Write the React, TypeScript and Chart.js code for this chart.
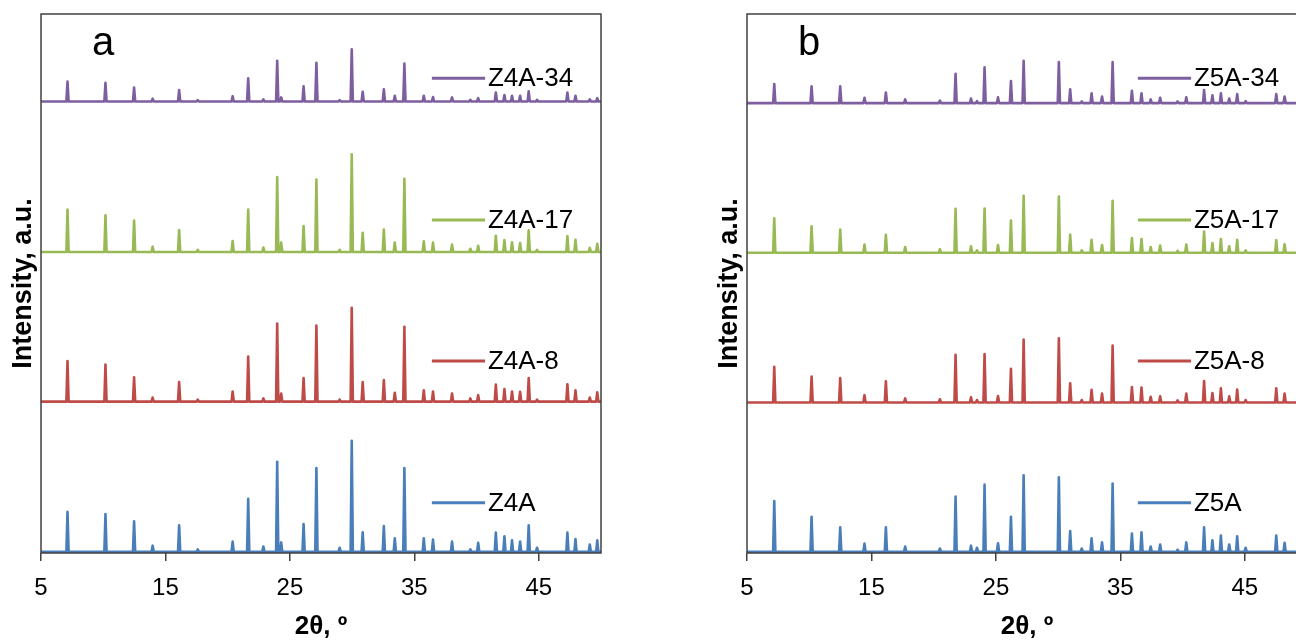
import React, { useEffect, useRef } from 'react';
import { Chart, registerables } from 'chart.js';

Chart.register(...registerables);

// ---------- data ----------
const xTickValues = [5, 15, 25, 35, 45];
const xMin = 5;
const xMax = 50;
const yMax = 1325;
const colors = ['#4A7EBB', '#BE4B48', '#98B954', '#7D5FA0'];

// Panel a: peak positions (2θ) and heights per sample
const peaksA = [7.13, 10.18, 12.48, 13.97, 16.1, 17.6, 20.4, 21.65, 22.87, 23.98, 24.3, 26.1, 27.13, 29.0, 29.97, 30.85, 32.55, 33.43, 34.2, 35.76, 36.5, 38.03, 39.5, 40.13, 41.55, 42.24, 42.85, 43.5, 44.19, 44.86, 47.3, 47.95, 49.1, 49.7];
const z4A = [98, 93, 75, 15, 65, 6, 25, 130, 13, 221, 23, 68, 206, 10, 273, 48, 63, 33, 206, 33, 30, 25, 6, 22, 47, 38, 28, 25, 65, 10, 47, 31, 18, 28];
const z4A8 = [100, 91, 60, 10, 48, 5, 25, 111, 8, 192, 20, 58, 187, 5, 231, 48, 53, 22, 184, 28, 25, 20, 8, 16, 42, 31, 25, 24, 58, 5, 43, 28, 10, 23];
const z4A17 = [104, 90, 77, 13, 54, 5, 27, 104, 11, 184, 23, 64, 178, 5, 240, 47, 55, 23, 180, 26, 23, 18, 8, 15, 40, 29, 24, 22, 53, 5, 39, 30, 10, 20];
const z4A34 = [49, 46, 34, 7, 28, 3, 13, 57, 5, 100, 10, 37, 95, 3, 128, 24, 30, 14, 93, 14, 11, 10, 4, 8, 22, 16, 14, 14, 25, 4, 22, 14, 5, 8];
const offsetsA = [3, 372, 740, 1110];
const labelsA = ['Z4A', 'Z4A-8', 'Z4A-17', 'Z4A-34'];

// Panel b
const peaksB = [7.19, 10.19, 12.49, 14.44, 16.16, 17.71, 20.5, 21.76, 23.0, 23.48, 24.09, 25.17, 26.21, 27.23, 30.06, 30.97, 31.9, 32.69, 33.53, 34.38, 35.93, 36.7, 37.44, 38.2, 39.6, 40.3, 41.73, 42.4, 43.08, 43.75, 44.39, 45.07, 47.53, 48.2];
const z5A = [125, 86, 60, 20, 60, 13, 8, 136, 15, 10, 165, 21, 86, 188, 183, 51, 8, 33, 23, 168, 45, 48, 13, 18, 5, 23, 60, 28, 40, 18, 38, 10, 40, 22];
const z5A8 = [88, 64, 60, 18, 52, 10, 8, 117, 13, 6, 119, 16, 83, 155, 158, 47, 6, 31, 22, 140, 38, 37, 14, 15, 5, 22, 53, 23, 35, 15, 32, 6, 35, 22];
const z5A17 = [85, 65, 57, 20, 44, 14, 9, 108, 16, 6, 109, 19, 79, 140, 138, 45, 6, 32, 19, 128, 36, 34, 14, 18, 5, 20, 52, 24, 34, 16, 32, 6, 31, 21];
const z5A34 = [47, 41, 41, 13, 26, 9, 6, 72, 11, 5, 88, 14, 54, 104, 101, 34, 4, 24, 16, 101, 30, 24, 9, 13, 4, 14, 32, 19, 24, 11, 22, 5, 22, 16];
const offsetsB = [3, 370, 738, 1106];
const labelsB = ['Z5A', 'Z5A-8', 'Z5A-17', 'Z5A-34'];

const PEAK_HALF_WIDTH = 0.09;

function buildTrace(peaks: number[], heights: number[], base: number) {
  const pts: { x: number; y: number }[] = [{ x: xMin, y: base }];
  peaks.forEach((p, i) => {
    pts.push({ x: p - PEAK_HALF_WIDTH, y: base });
    pts.push({ x: p, y: base + heights[i] });
    pts.push({ x: p + PEAK_HALF_WIDTH, y: base });
  });
  pts.push({ x: xMax, y: base });
  return pts;
}

const FONT = '"Liberation Sans", Arial, sans-serif';
const legendYFrac = [0.907, 0.644, 0.382, 0.119];

const decorPlugin = {
  id: 'decor',
  afterDraw(chart: any, _args: any, opts: any) {
    const { ctx, chartArea } = chart;
    const { left, top, right, bottom } = chartArea;
    const w = right - left;
    const h = bottom - top;
    ctx.save();
    ctx.strokeStyle = '#404040';
    ctx.lineWidth = 1.5;
    ctx.strokeRect(left, top, w, h);
    ctx.font = `26px ${FONT}`;
    ctx.textBaseline = 'middle';
    ctx.textAlign = 'left';
    (opts.labels as string[]).forEach((lab, i) => {
      const y = top + legendYFrac[i] * h;
      ctx.strokeStyle = colors[i];
      ctx.lineWidth = 3;
      ctx.beginPath();
      ctx.moveTo(left + 0.698 * w, y);
      ctx.lineTo(left + 0.793 * w, y);
      ctx.stroke();
      ctx.fillStyle = '#000';
      ctx.fillText(lab, left + 0.798 * w, y + 1);
    });
    ctx.font = `40px ${FONT}`;
    ctx.textBaseline = 'alphabetic';
    ctx.fillStyle = '#000';
    ctx.fillText(opts.letter, left + 51, 55);
    ctx.restore();
  },
};

function XrdPanel(props: { peaks: number[]; series: number[][]; offsets: number[]; labels: string[]; letter: string; left: number }) {
  const ref = useRef<HTMLCanvasElement>(null);
  useEffect(() => {
    if (!ref.current) return;
    const datasets = props.series.map((s, i) => ({
      label: props.labels[i],
      data: buildTrace(props.peaks, s, props.offsets[i]),
      borderColor: colors[i],
      borderWidth: 2.6,
      borderJoinStyle: 'round',
      borderCapStyle: 'round',
      pointRadius: 0,
      tension: 0,
      fill: false,
    }));
    const chart = new Chart(ref.current, {
      type: 'line',
      data: { datasets },
      plugins: [decorPlugin],
      options: {
        animation: false,
        responsive: false,
        devicePixelRatio: 1,
        parsing: false,
        normalized: true,
        layout: { padding: { top: 14, right: 39, left: 0, bottom: 0 } },
        plugins: {
          legend: { display: false },
          tooltip: { enabled: false },
          decor: { labels: props.labels, letter: props.letter },
        } as any,
        scales: {
          x: {
            type: 'linear',
            min: xMin,
            max: xMax,
            afterBuildTicks: (scale: any) => {
              scale.ticks = xTickValues.map((v) => ({ value: v }));
            },
            afterFit: (scale: any) => {
              scale.height = 87;
            },
            ticks: {
              autoSkip: false,
              maxRotation: 0,
              padding: 13,
              color: '#000',
              font: { family: FONT, size: 24 },
            },
            grid: {
              display: true,
              drawOnChartArea: false,
              drawTicks: true,
              tickLength: 8,
              color: '#404040',
              lineWidth: 1.5,
            },
            border: { display: false },
            title: {
              display: true,
              text: '2θ, º',
              color: '#000',
              font: { family: FONT, size: 26, weight: 'bold', lineHeight: 1 },
              padding: { top: 0, bottom: 0 },
            },
          },
          y: {
            type: 'linear',
            min: 0,
            max: yMax,
            afterFit: (scale: any) => {
              scale.width = 41;
            },
            ticks: { display: false },
            grid: { display: false },
            border: { display: false },
            title: {
              display: true,
              text: 'Intensity, a.u.',
              color: '#000',
              font: { family: FONT, size: 27, weight: 'bold', lineHeight: 1 },
              padding: { top: 10, bottom: 0 },
            },
          },
        },
      } as any,
    });
    return () => chart.destroy();
  }, []);
  return (
    <canvas
      ref={ref}
      width={640}
      height={640}
      style={{ position: 'absolute', left: props.left, top: 0, width: 640, height: 640 }}
    />
  );
}

export default function App() {
  return (
    <div
      style={{
        position: 'fixed',
        left: 0,
        top: 0,
        width: 1296,
        height: 640,
        overflow: 'hidden',
        background: '#fff',
      }}
    >
      <XrdPanel peaks={peaksA} series={[z4A, z4A8, z4A17, z4A34]} offsets={offsetsA} labels={labelsA} letter="a" left={0} />
      <XrdPanel peaks={peaksB} series={[z5A, z5A8, z5A17, z5A34]} offsets={offsetsB} labels={labelsB} letter="b" left={706} />
    </div>
  );
}
